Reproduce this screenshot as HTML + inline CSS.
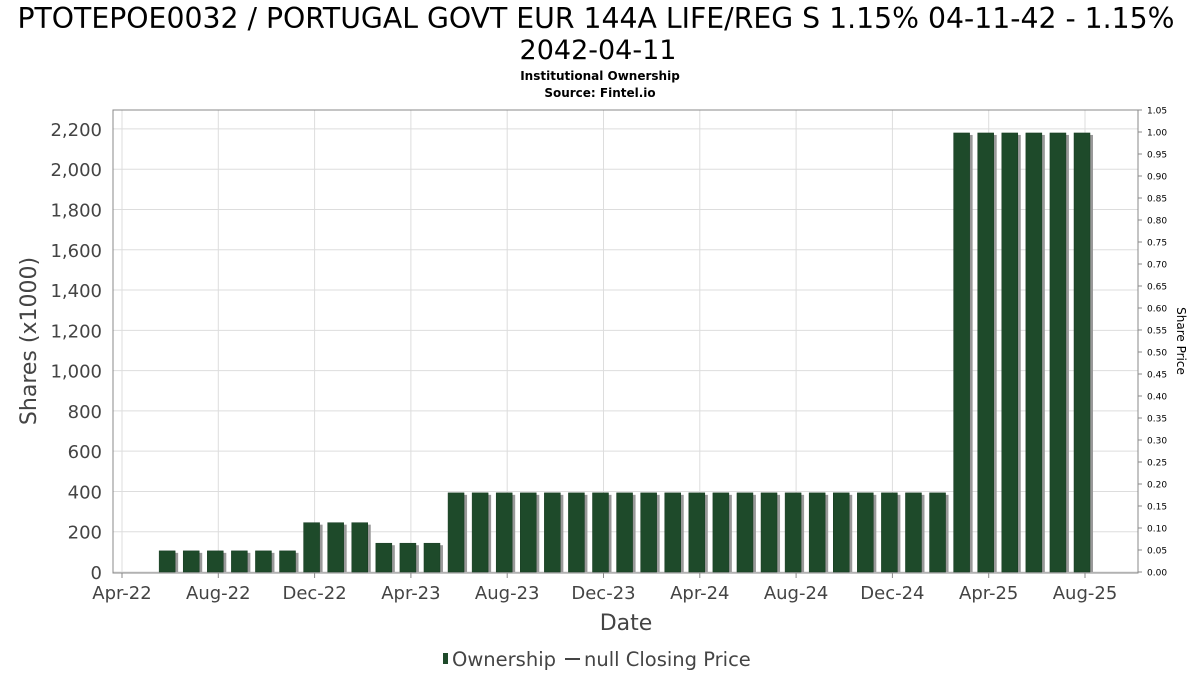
<!DOCTYPE html>
<html><head><meta charset="utf-8"><style>
body{margin:0;background:#fff;font-family:"DejaVu Sans","Liberation Sans",sans-serif}
</style></head><body>
<svg width="1200" height="675" xmlns="http://www.w3.org/2000/svg" font-family="DejaVu Sans, Liberation Sans, sans-serif">
<text x="596" y="28" text-anchor="middle" font-size="28.3" fill="#000">PTOTEPOE0032 / PORTUGAL GOVT EUR 144A LIFE/REG S 1.15% 04-11-42 - 1.15%</text>
<text x="598" y="59" text-anchor="middle" font-size="27" fill="#000">2042-04-11</text>
<text x="600" y="80" text-anchor="middle" font-size="12" font-weight="bold">Institutional Ownership</text>
<text x="600" y="97" text-anchor="middle" font-size="12" font-weight="bold">Source: Fintel.io</text>
<g id="grid"></g>
<g id="bars"></g>
<rect x="113" y="110" width="1025" height="463" fill="none" stroke="#888"/>
<g id="axes"></g>
<text transform="translate(36,341) rotate(-90)" text-anchor="middle" font-size="22" fill="#444">Shares (x1000)</text>
<text transform="translate(1177,341) rotate(90)" text-anchor="middle" font-size="12">Share Price</text>
<text x="626" y="630" text-anchor="middle" font-size="22" fill="#444">Date</text>
<g>
<rect x="443" y="653" width="5" height="11" fill="#1e4a2a"/>
<text x="452" y="666" font-size="19.5" fill="#444">Ownership</text>
<line x1="565" y1="659" x2="580" y2="659" stroke="#444" stroke-width="2"/>
<text x="584" y="666" font-size="19.5" fill="#444">null Closing Price</text>
</g>
</svg>
<script>
const monthIdx=[2,3,4,5,6,7,8,9,10,11,12,13,14,15,16,17,18,19,20,21,22,23,24,25,26,27,28,29,30,31,32,33,34,35,36,37,38,39,40];
const shares=[105,105,105,105,105,105,245,245,245,143,143,143,393,393,393,393,393,393,393,393,393,393,393,393,393,393,393,393,393,393,393,393,393,2180,2180,2180,2180,2180,2180];
const yTicks=[0,200,400,600,800,1000,1200,1400,1600,1800,2000,2200];
const xTickLabels=["Apr-22","Aug-22","Dec-22","Apr-23","Aug-23","Dec-23","Apr-24","Aug-24","Dec-24","Apr-25","Aug-25"];
const xTickMonths=[0,4,8,12,16,20,24,28,32,36,40];
const y2Ticks=[0,0.05,0.1,0.15,0.2,0.25,0.3,0.35,0.4,0.45,0.5,0.55,0.6,0.65,0.7,0.75,0.8,0.85,0.9,0.95,1.0,1.05];
const NS="http://www.w3.org/2000/svg";
const x=m=>122+m*24.075;
const y=v=>572-v*0.2014;
const y2=v=>572-v*(462/1.05);
function mk(t,a,p){const e=document.createElementNS(NS,t);for(const k in a)e.setAttribute(k,a[k]);p.appendChild(e);return e;}
const grid=document.getElementById('grid'),bars=document.getElementById('bars'),axes=document.getElementById('axes');
yTicks.forEach(v=>{
 const l=mk('line',{x1:113,x2:1138,y1:y(v),y2:y(v),stroke:'#ddd'},grid);
 
 
 const t=mk('text',{x:102,y:y(v)+7,'text-anchor':'end','font-size':18,fill:'#444'},axes);
 t.textContent=v.toLocaleString('en-US');
 
 
});
xTickMonths.forEach((m,i)=>{
 const l=mk('line',{x1:x(m),x2:x(m),y1:110,y2:573,stroke:'#ddd'},grid);
 
 
 mk('line',{x1:x(m),x2:x(m),y1:573,y2:578,stroke:'#888'},axes);
 const t=mk('text',{x:x(m),y:599,'text-anchor':'middle','font-size':18,fill:'#444'},axes);
 t.textContent=xTickLabels[i];
 
 
});
y2Ticks.forEach(v=>{
 mk('line',{x1:1138,x2:1142,y1:y2(v),y2:y2(v),stroke:'#888'},axes);
 const t=mk('text',{x:1147,y:y2(v)+3.5,'font-size':9,fill:'#000'},axes);
 t.textContent=v.toFixed(2);
 
 
});
monthIdx.forEach((m,i)=>{
 const bx=x(m)-11,by=y(shares[i]),h=572-by;
 mk('rect',{x:bx+3,y:by+2,width:16,height:h-2,fill:'#999'},bars);
 const r=mk('rect',{x:bx,y:by,width:16,height:h,fill:'#1e4a2a',stroke:'#163a20','stroke-width':0.5},bars);
 
 
});
</script>
</body></html>
